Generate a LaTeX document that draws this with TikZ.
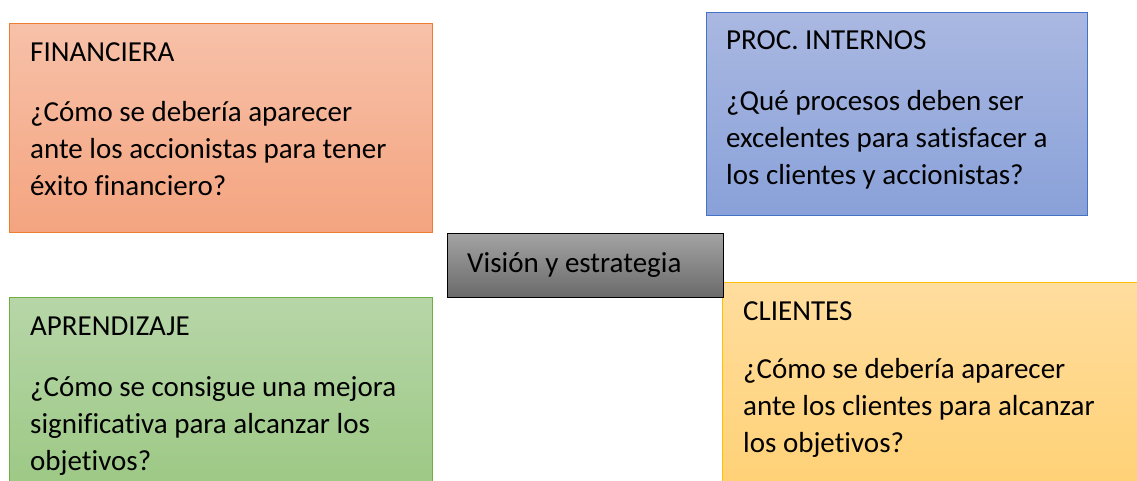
\documentclass[tikz,border=0pt]{standalone}
\usepackage{fontspec}
\setmainfont{Carlito}[Ligatures=NoCommon]
\definecolor{finB}{HTML}{ED7D31}
\definecolor{finT}{HTML}{F7C1A9}
\definecolor{finD}{HTML}{F4A47F}
\definecolor{proB}{HTML}{4472C4}
\definecolor{proT}{HTML}{AAB8E1}
\definecolor{proD}{HTML}{89A1D9}
\definecolor{aprB}{HTML}{70AD47}
\definecolor{aprT}{HTML}{B7D6A8}
\definecolor{aprD}{HTML}{98C67F}
\definecolor{cliB}{HTML}{FFC000}
\definecolor{cliT}{HTML}{FFDD9E}
\definecolor{cliD}{HTML}{FFD071}
\definecolor{visT}{HTML}{A3A3A3}
\definecolor{visD}{HTML}{6A6A6A}
\begin{document}
\begin{tikzpicture}[x=1pt,y=-1pt,
  box/.style={rectangle, inner sep=0pt, line width=1pt, anchor=north west},
  lbl/.style={anchor=base west, inner sep=0pt, font=\fontsize{29}{37}\selectfont},
  body/.style={anchor=base west, inner sep=0pt, align=left, font=\fontsize{29}{37}\selectfont}]
\clip (0,0) rectangle (1137,481);
\fill[white] (0,0) rectangle (1137,481);
% boxes
\node[box, draw=finB, top color=finT, bottom color=finD, minimum width=423pt, minimum height=209pt] (fin) at (9,23) {};
\node[box, draw=proB, top color=proT, bottom color=proD, minimum width=381pt, minimum height=203pt] (pro) at (706,12) {};
\node[box, draw=aprB, top color=aprT, bottom color=aprD, minimum width=423pt, minimum height=220pt] (apr) at (9,297) {};
\node[box, draw=cliB, top color=cliT, bottom color=cliD, minimum width=430pt, minimum height=230pt] (cli) at (722,282) {};
\node[box, draw=black, top color=visT, bottom color=visD, minimum width=276pt, minimum height=64pt] (vis) at (447,233) {};
% texts
\node[lbl] (finT) at (30,62) {FINANCIERA};
\node[body] (finBd) at (30,196) {¿Cómo se debería aparecer\\ante los accionistas para tener\\éxito financiero?};
\node[lbl] (proT) at (726,50) {PROC. INTERNOS};
\node[body] (proBd) at (726,185) {¿Qué procesos deben ser\\excelentes para satisfacer a\\los clientes y accionistas?};
\node[lbl] (aprT) at (30,335) {APRENDIZAJE};
\node[body] (aprBd) at (30,470) {¿Cómo se consigue una mejora\\significativa para alcanzar los\\objetivos?};
\node[lbl] (cliT) at (743,320) {CLIENTES};
\node[body] (cliBd) at (743,452) {¿Cómo se debería aparecer\\ante los clientes para alcanzar\\los objetivos?};
\node[lbl] (visT) at (467,272) {Visión y estrategia};
\end{tikzpicture}
\end{document}
